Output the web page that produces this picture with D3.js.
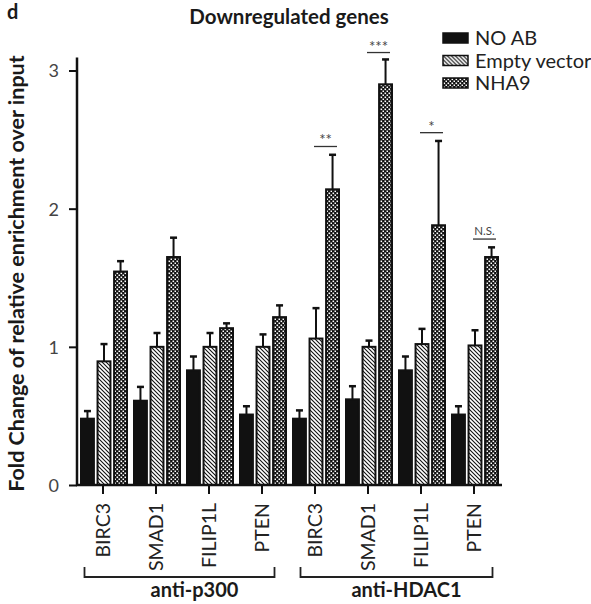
<!DOCTYPE html>
<html>
<head>
<meta charset="utf-8">
<script src="https://cdn.jsdelivr.net/npm/d3@7"></script>
<style>
  body { margin: 0; background: #fff; }
  svg text { font-family: Lato, "Open Sans", sans-serif; fill: #1a1a1a; }
</style>
</head>
<body>
<div id="chart"></div>
<script>
// data
const genes = ['BIRC3', 'SMAD1', 'FILIP1L', 'PTEN', 'BIRC3', 'SMAD1', 'FILIP1L', 'PTEN']
const antibodies = ['anti-p300', 'anti-HDAC1']
const series = ['NO AB', 'Empty vector', 'NHA9']
const noAb = [0.48, 0.61, 0.83, 0.51, 0.48, 0.62, 0.83, 0.51]
const noAbErr = [0.055, 0.1, 0.1, 0.06, 0.06, 0.095, 0.1, 0.06]
const emptyVec = [0.895, 1.0, 1.0, 1.0, 1.06, 1.0, 1.02, 1.01]
const emptyVecErr = [0.125, 0.1, 0.1, 0.09, 0.22, 0.045, 0.11, 0.11]
const nha9 = [1.545, 1.65, 1.135, 1.215, 2.14, 2.9, 1.88, 1.65]
const nha9Err = [0.075, 0.14, 0.035, 0.085, 0.25, 0.18, 0.61, 0.07]
const yTicks = [0, 1, 2, 3]
// significance marks on HDAC1 groups (index into genes)
const sigIdx = [4, 5, 6, 7]
const sigLabels = ['**', '***', '*', 'N.S.']
const sigLevel = [2.45, 3.13, 2.55, 1.78]

const W = 591, H = 604
const svg = d3.select('#chart').append('svg')
    .attr('width', W).attr('height', H)

const defs = svg.append('defs')
const hatch = defs.append('pattern')
    .attr('id', 'hatch').attr('patternUnits', 'userSpaceOnUse')
    .attr('width', 4).attr('height', 4)
hatch.append('rect').attr('width', 4).attr('height', 4).attr('fill', '#fff')
hatch.append('path').attr('d', 'M-1,-1 L5,5 M3,-1 L5,1 M-1,3 L1,5')
    .attr('stroke', '#111').attr('stroke-width', 1.1)

const checker = defs.append('pattern')
    .attr('id', 'checker').attr('patternUnits', 'userSpaceOnUse')
    .attr('width', 4).attr('height', 4)
checker.append('rect').attr('width', 4).attr('height', 4).attr('fill', '#111')
checker.append('rect').attr('x', 0.5).attr('y', 0.5).attr('width', 1.6).attr('height', 1.6).attr('fill', '#fff')
checker.append('rect').attr('x', 2.5).attr('y', 2.5).attr('width', 1.6).attr('height', 1.6).attr('fill', '#fff')

const fills = ['#111', 'url(#hatch)', 'url(#checker)']

const x = d3.scaleBand().domain(d3.range(genes.length)).range([76.5, 500.5]).padding(0)
const xs = d3.scaleBand().domain(d3.range(series.length)).range([-23, 23]).paddingInner(0.22)
const y = d3.scaleLinear().domain([0, 3]).range([485, 70.5])

const values = [noAb, emptyVec, nha9]
const errs = [noAbErr, emptyVecErr, nha9Err]
const bars = []
genes.forEach((g, i) => {
    series.forEach((s, j) => {
        bars.push({ i, j, v: values[j][i], e: errs[j][i] })
    })
})

const g = svg.append('g')
const cx = d => x(d.i) + x.bandwidth() / 2 + xs(d.j) + 1

// error bars (upper only)
g.selectAll('line.err')
    .data(bars)
    .join('line')
        .attr('class', 'err')
        .attr('x1', d => cx(d) + xs.bandwidth() / 2)
        .attr('x2', d => cx(d) + xs.bandwidth() / 2)
        .attr('y1', d => y(d.v))
        .attr('y2', d => y(d.v + d.e))
        .attr('stroke', '#111').attr('stroke-width', 2)
g.selectAll('line.cap')
    .data(bars)
    .join('line')
        .attr('class', 'cap')
        .attr('x1', d => cx(d) + xs.bandwidth() / 2 - 3.5)
        .attr('x2', d => cx(d) + xs.bandwidth() / 2 + 3.5)
        .attr('y1', d => y(d.v + d.e))
        .attr('y2', d => y(d.v + d.e))
        .attr('stroke', '#111').attr('stroke-width', 2.5)

g.selectAll('rect.bar')
    .data(bars)
    .join('rect')
        .attr('class', 'bar')
        .attr('x', d => cx(d))
        .attr('y', d => y(d.v))
        .attr('width', xs.bandwidth())
        .attr('height', d => y(0) - y(d.v))
        .attr('fill', d => fills[d.j])
        .attr('stroke', '#111').attr('stroke-width', 2)

// y axis
const yAxis = svg.append('g')
    .attr('transform', 'translate(77,0)')
    .call(d3.axisLeft(y).tickValues(yTicks).tickSize(8).tickPadding(10).tickFormat(d3.format('d')))
yAxis.select('.domain').attr('stroke', '#111').attr('stroke-width', 2.5)
    .attr('d', `M0,${y(3) - 13}V${y(0)}`)
yAxis.selectAll('.tick line').attr('stroke', '#111').attr('stroke-width', 2)
yAxis.selectAll('.tick text').style('font-size', '18px').style('fill', '#444')
    .attr('dy', '0.36em')

// x axis
const xAxis = svg.append('g')
    .attr('transform', `translate(0,${y(0)})`)
    .call(d3.axisBottom(x).tickSize(9).tickFormat(i => genes[i]))
xAxis.select('.domain').attr('stroke', '#111').attr('stroke-width', 2.5)
    .attr('d', `M76,0H502`)
xAxis.selectAll('.tick line').attr('stroke', '#111').attr('stroke-width', 2)
xAxis.selectAll('.tick text')
    .attr('transform', 'rotate(-90)')
    .attr('x', -18).attr('y', 0).attr('dy', '0.36em')
    .attr('text-anchor', 'end')
    .style('font-size', '19.5px').style('fill', '#222')

// group brackets
const groups = antibodies.map((a, k) => ({ a, lo: k * 4, hi: k * 4 + 3 }))
const br = svg.append('g')
br.selectAll('path')
    .data(groups)
    .join('path')
        .attr('d', d => {
            const x0 = x(d.lo) + 8 + (d.lo ? 4 : 0), x1 = x(d.hi) + x.bandwidth() - 8 - (d.lo ? 0 : 6)
            return `M${x0},567V577H${x1}V567`
        })
        .attr('fill', 'none').attr('stroke', '#222').attr('stroke-width', 1.8)
br.selectAll('text')
    .data(groups)
    .join('text')
        .attr('x', d => (x(d.lo) + x(d.hi) + x.bandwidth()) / 2 + 12)
        .attr('y', 597)
        .attr('text-anchor', 'middle')
        .style('font-size', '20px').style('font-weight', 'bold')
        .text(d => d.a)

// significance
const sig = svg.append('g')
sig.selectAll('line')
    .data(sigIdx)
    .join('line')
        .attr('x1', (d, k) => x(d) + x.bandwidth() / 2 - 1)
        .attr('x2', (d, k) => x(d) + x.bandwidth() / 2 + 22)
        .attr('y1', (d, k) => y(sigLevel[k]))
        .attr('y2', (d, k) => y(sigLevel[k]))
        .attr('stroke', '#333').attr('stroke-width', 1.3)
sig.selectAll('text')
    .data(sigIdx)
    .join('text')
        .attr('x', d => x(d) + x.bandwidth() / 2 + 10.5)
        .attr('y', (d, k) => y(sigLevel[k]) - (sigLabels[k] === 'N.S.' ? 4 : 1))
        .attr('text-anchor', 'middle')
        .style('font-size', (d, k) => sigLabels[k] === 'N.S.' ? '11.5px' : '15px')
        .style('fill', '#444')
        .text((d, k) => sigLabels[k])

// legend
const leg = svg.append('g').attr('transform', 'translate(443,33)')
const li = leg.selectAll('g')
    .data(series)
    .join('g')
        .attr('transform', (d, k) => `translate(0,${k * 22.5})`)
li.append('rect')
    .attr('width', 25).attr('height', 10)
    .attr('fill', (d, k) => fills[k])
    .attr('stroke', '#111').attr('stroke-width', 1.5)
li.append('text')
    .attr('x', 32).attr('y', 5).attr('dy', '0.36em')
    .style('font-size', '20px').style('fill', '#222')
    .text(d => d)

// titles
svg.append('text')
    .attr('x', 289).attr('y', 24)
    .attr('text-anchor', 'middle')
    .style('font-size', '20.5px').style('font-weight', 'bold')
    .text('Downregulated genes')

svg.append('text')
    .attr('x', 7).attr('y', 19)
    .style('font-size', '20px').style('font-weight', 'bold')
    .text('d')

svg.append('text')
    .attr('transform', `translate(24,${(55 + 492) / 2}) rotate(-90)`)
    .attr('text-anchor', 'middle')
    .style('font-size', '21.5px').style('font-weight', 'bold')
    .text('Fold Change of relative enrichment over input')
</script>
</body>
</html>
